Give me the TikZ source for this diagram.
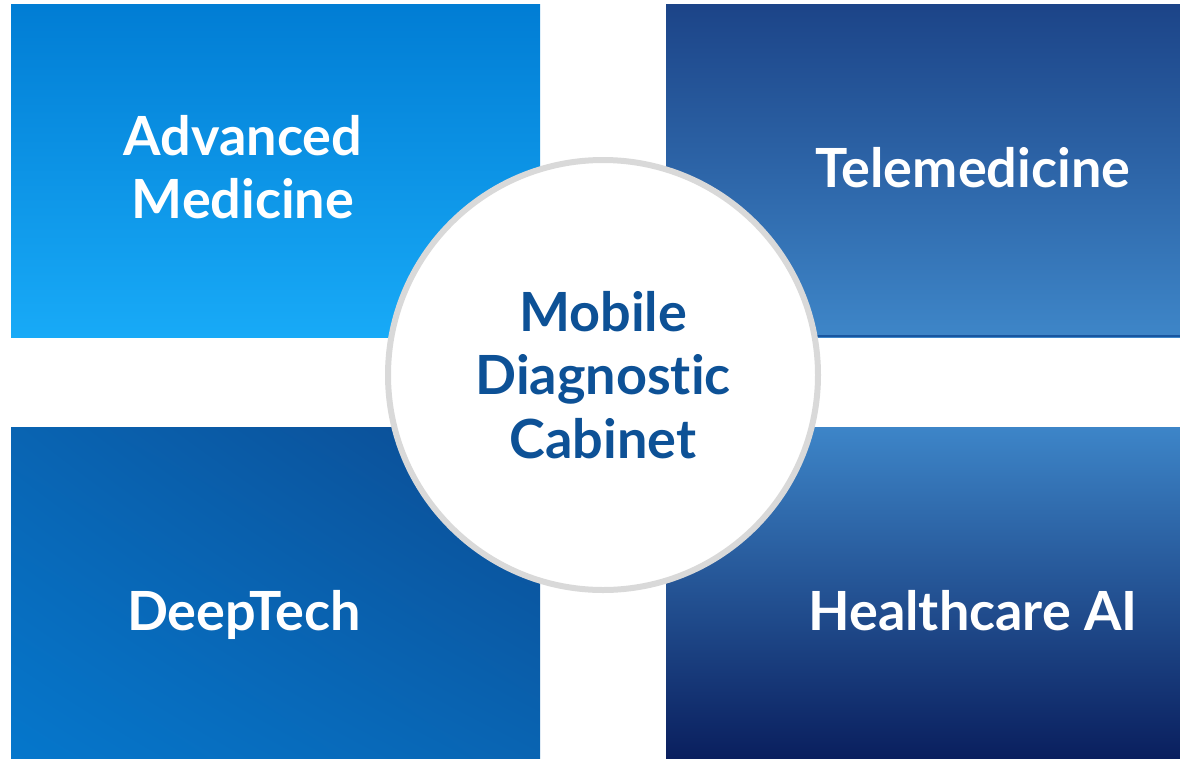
\documentclass[tikz,border=0pt]{standalone}
\usepackage{fontspec}
\setmainfont{Lato}[Ligatures=NoCommon]
\usepackage{xcolor}
\usetikzlibrary{positioning,shadings}
\definecolor{cTLtop}{HTML}{017DD4}
\definecolor{cTLbot}{HTML}{18AAF7}
\definecolor{cTRtop}{HTML}{1C4488}
\definecolor{cTRbot}{HTML}{3E86C8}
\definecolor{cTRline}{HTML}{1856A0}
\definecolor{cBLdark}{HTML}{0C4B92}
\definecolor{cBLmid}{HTML}{0964B2}
\definecolor{cBLlight}{HTML}{0577CC}
\definecolor{cBRtop}{HTML}{3D85C8}
\definecolor{cBRbot}{HTML}{0A1F5E}
\definecolor{cRing}{HTML}{D9D9D9}
\definecolor{cHub}{HTML}{0D5196}

\begin{document}
\begin{tikzpicture}[x=1pt, y=-1pt,
  tile/.style={rectangle, inner sep=0pt, anchor=north west, minimum width=#1},
  tile/.default=529pt,
  tiletext/.style={text=white, align=center, anchor=base, inner sep=0pt,
                   font=\bfseries\fontsize{54}{63}\selectfont},
  hub/.style={circle, fill=white, draw=cRing, line width=6pt, minimum size=430pt,
              inner sep=0pt, align=center, text=cHub,
              font=\bfseries\fontsize{54}{63.5}\selectfont}]

  \useasboundingbox (0,0) rectangle (1180,758);

  % four tiles
  \node[tile, minimum height=333pt, top color=cTLtop, bottom color=cTLbot] (advanced) at (11,4) {};
  \node[tile=514pt, minimum height=333pt, top color=cTRtop, bottom color=cTRbot] (tele) at (666,4) {};
  \node[tile, minimum height=331pt, upper right=cBLdark, lower left=cBLlight,
        upper left=cBLmid, lower right=cBLmid] (deep) at (11,427) {};
  \node[tile=514pt, minimum height=331pt, top color=cBRtop, bottom color=cBRbot] (ai) at (666,427) {};
  \draw[cTRline, line width=2pt] ([yshift=1pt]tele.south west) -- ([yshift=1pt]tele.south east);

  % tile labels (base = last line)
  \node[tiletext] (advancedlabel) at (243,218) {Advanced\\Medicine};
  \node[tiletext] (telelabel) at (973,187) {Telemedicine};
  \node[tiletext] (deeplabel) at (244,630) {DeepTech};
  \node[tiletext] (ailabel) at (973,630) {Healthcare AI};

  % centre
  \node[hub] (cabinet) at (603,375) {Mobile\\Diagnostic\\Cabinet};
\end{tikzpicture}
\end{document}
